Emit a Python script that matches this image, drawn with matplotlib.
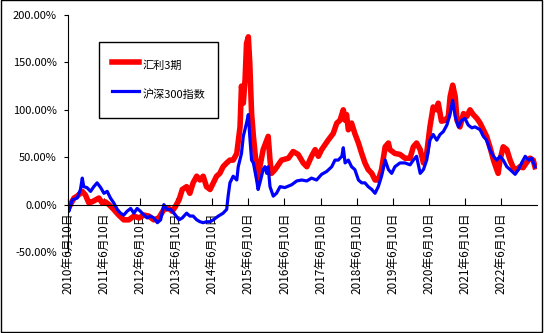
import matplotlib.pyplot as plt
from matplotlib.patches import Rectangle
from matplotlib.ticker import FuncFormatter

plt.rcParams['font.family'] = ['Noto Sans CJK SC', 'DejaVu Sans']

# x = 年份(小数), y = 累计收益 (%)
huili_x = [2010.44, 2010.47, 2010.61, 2010.70, 2010.84, 2010.93, 2011.02, 2011.11, 2011.21, 2011.30,
           2011.39, 2011.48, 2011.58, 2011.71, 2011.85, 2011.99, 2012.13, 2012.27, 2012.41, 2012.55,
           2012.68, 2012.82, 2012.96, 2013.10, 2013.24, 2013.33, 2013.42, 2013.52, 2013.61, 2013.73,
           2013.82, 2013.91, 2014.01, 2014.10, 2014.19, 2014.28, 2014.38, 2014.47, 2014.56, 2014.65,
           2014.74, 2014.84, 2014.93, 2015.02, 2015.12, 2015.21, 2015.25, 2015.30, 2015.35, 2015.39,
           2015.44, 2015.48, 2015.53, 2015.58, 2015.67, 2015.71, 2015.76, 2015.85, 2015.95, 2015.99,
           2016.04, 2016.08, 2016.18, 2016.36, 2016.55, 2016.68, 2016.82, 2016.96, 2017.06, 2017.19,
           2017.29, 2017.38, 2017.47, 2017.56, 2017.65, 2017.79, 2017.89, 2017.98, 2018.07, 2018.12,
           2018.16, 2018.21, 2018.30, 2018.39, 2018.49, 2018.58, 2018.67, 2018.76, 2018.86, 2018.95,
           2019.04, 2019.13, 2019.23, 2019.32, 2019.36, 2019.50, 2019.64, 2019.78, 2019.92, 2020.01,
           2020.10, 2020.20, 2020.29, 2020.38, 2020.47, 2020.56, 2020.66, 2020.70, 2020.79, 2020.89,
           2020.98, 2021.03, 2021.10, 2021.17, 2021.22, 2021.30, 2021.40, 2021.49, 2021.58, 2021.67,
           2021.77, 2021.86, 2021.95, 2022.04, 2022.13, 2022.23, 2022.32, 2022.36, 2022.41, 2022.50,
           2022.60, 2022.69, 2022.78, 2022.87, 2022.96, 2023.05, 2023.14, 2023.24, 2023.33, 2023.38]
huili_y = [0, -3, 7, 9, 14, 10, 2, 3, 5, 7,
           2, 3, 0, -5, -11, -16, -16, -12, -14, -11,
           -12, -16, -14, -5, -4, -7, -2, 5, 16, 19,
           12, 23, 30, 26, 30, 19, 16, 23, 30, 33,
           40, 44, 47, 47, 54, 82, 125, 107, 132, 170,
           177, 149, 96, 72, 37, 26, 40, 58, 68, 72,
           47, 33, 37, 47, 49, 56, 53, 44, 40, 51,
           58, 51, 58, 63, 68, 75, 86, 89, 100, 89,
           95, 79, 86, 75, 65, 54, 44, 37, 33, 26,
           26, 37, 61, 65, 58, 54, 53, 49, 49, 61,
           65, 58, 44, 54, 82, 103, 100, 107, 88, 89,
           93, 114, 126, 114, 89, 82, 96, 93, 100, 95,
           91, 86, 79, 72, 61, 47, 37, 33, 47, 61,
           58, 47, 39, 37, 40, 39, 44, 49, 47, 40]

hs300_x = [2010.44, 2010.47, 2010.56, 2010.70, 2010.79, 2010.84, 2010.88, 2010.97, 2011.07, 2011.16,
           2011.25, 2011.35, 2011.44, 2011.53, 2011.62, 2011.71, 2011.81, 2011.90, 2011.99, 2012.08,
           2012.18, 2012.27, 2012.36, 2012.45, 2012.55, 2012.64, 2012.73, 2012.82, 2012.92, 2013.01,
           2013.10, 2013.19, 2013.29, 2013.38, 2013.52, 2013.61, 2013.73, 2013.82, 2013.91, 2014.01,
           2014.10, 2014.19, 2014.28, 2014.38, 2014.47, 2014.61, 2014.74, 2014.84, 2014.88, 2014.93,
           2015.02, 2015.12, 2015.16, 2015.25, 2015.30, 2015.39, 2015.44, 2015.48, 2015.53, 2015.58,
           2015.67, 2015.71, 2015.76, 2015.85, 2015.90, 2015.95, 2015.99, 2016.04, 2016.13, 2016.22,
           2016.32, 2016.45, 2016.64, 2016.78, 2016.92, 2017.06, 2017.19, 2017.33, 2017.47, 2017.61,
           2017.75, 2017.84, 2017.93, 2018.03, 2018.07, 2018.12, 2018.21, 2018.30, 2018.39, 2018.49,
           2018.58, 2018.67, 2018.76, 2018.86, 2018.95, 2019.04, 2019.13, 2019.23, 2019.32, 2019.41,
           2019.50, 2019.64, 2019.78, 2019.92, 2020.01, 2020.10, 2020.20, 2020.29, 2020.38, 2020.47,
           2020.56, 2020.66, 2020.75, 2020.84, 2020.94, 2021.03, 2021.10, 2021.17, 2021.26, 2021.35,
           2021.44, 2021.53, 2021.63, 2021.72, 2021.86, 2021.95, 2022.04, 2022.13, 2022.23, 2022.32,
           2022.41, 2022.50, 2022.60, 2022.69, 2022.83, 2022.92, 2023.01, 2023.11, 2023.20, 2023.29,
           2023.38]
hs300_y = [0, -7, 5, 7, 16, 28, 19, 18, 14, 19,
           23, 18, 12, 14, 7, 2, -5, -9, -11, -7,
           -4, -9, -4, -7, -11, -14, -12, -14, -19, -16,
           0, -5, -5, -9, -16, -14, -9, -12, -12, -16,
           -18, -19, -18, -18, -16, -12, -9, -5, 9, 23,
           30, 26, 40, 54, 72, 86, 95, 72, 47, 44,
           26, 16, 23, 37, 40, 33, 40, 19, 9, 12,
           19, 18, 21, 25, 26, 25, 28, 26, 32, 35,
           40, 47, 47, 51, 60, 44, 47, 40, 37, 26,
           23, 23, 19, 16, 12, 19, 30, 47, 37, 33,
           40, 44, 44, 42, 47, 51, 33, 37, 47, 68,
           74, 68, 74, 77, 84, 96, 110, 93, 82, 89,
           91, 84, 81, 82, 79, 72, 68, 58, 51, 47,
           51, 47, 40, 37, 32, 37, 44, 51, 47, 49,
           40]

tick_years = list(range(2010, 2023))
tick_labels = [f'{y}年6月10日' for y in tick_years]

fig = plt.figure(figsize=(5.47, 3.33), dpi=100)
ax = fig.add_axes([0.124, 0.243, 0.858, 0.712])

ax.plot(huili_x, huili_y, color='#ff0000', lw=4.0, label='汇利3期', solid_joinstyle='round')
ax.plot(hs300_x, hs300_y, color='#0000ff', lw=2.3, label='沪深300指数', solid_joinstyle='round')

ax.set_ylim(-50, 200)
ax.set_xlim(2010.44, 2023.44)
ax.set_yticks([-50, 0, 50, 100, 150, 200])
ax.yaxis.set_major_formatter(FuncFormatter(lambda v, p: f'{v:.2f}%'))
ax.set_xticks([y + 0.44 for y in tick_years])
ax.set_xticklabels(tick_labels)

ax.spines['top'].set_visible(False)
ax.spines['right'].set_visible(False)
ax.spines['bottom'].set_position(('data', 0))
ax.tick_params(axis='x', direction='in', length=5, pad=6, labelsize=8.5, labelrotation=90)
ax.tick_params(axis='y', direction='out', length=3, labelsize=8, pad=5)
plt.setp(ax.get_xticklabels(), ha='center', va='top', rotation_mode='default')

leg = ax.legend(loc='upper left', bbox_to_anchor=(0.066, 0.886), fontsize=8,
                fancybox=False, edgecolor='black', framealpha=1,
                handlelength=2.4, handleheight=2.4, labelspacing=0.8, borderpad=1.2,
                handletextpad=0.3, borderaxespad=0)
leg.get_frame().set_linewidth(1.0)

fig.patches.append(Rectangle((0.001, 0.003), 0.99, 0.996, transform=fig.transFigure,
                             fill=False, edgecolor='black', lw=1))

fig.savefig('out.png', dpi=100)
